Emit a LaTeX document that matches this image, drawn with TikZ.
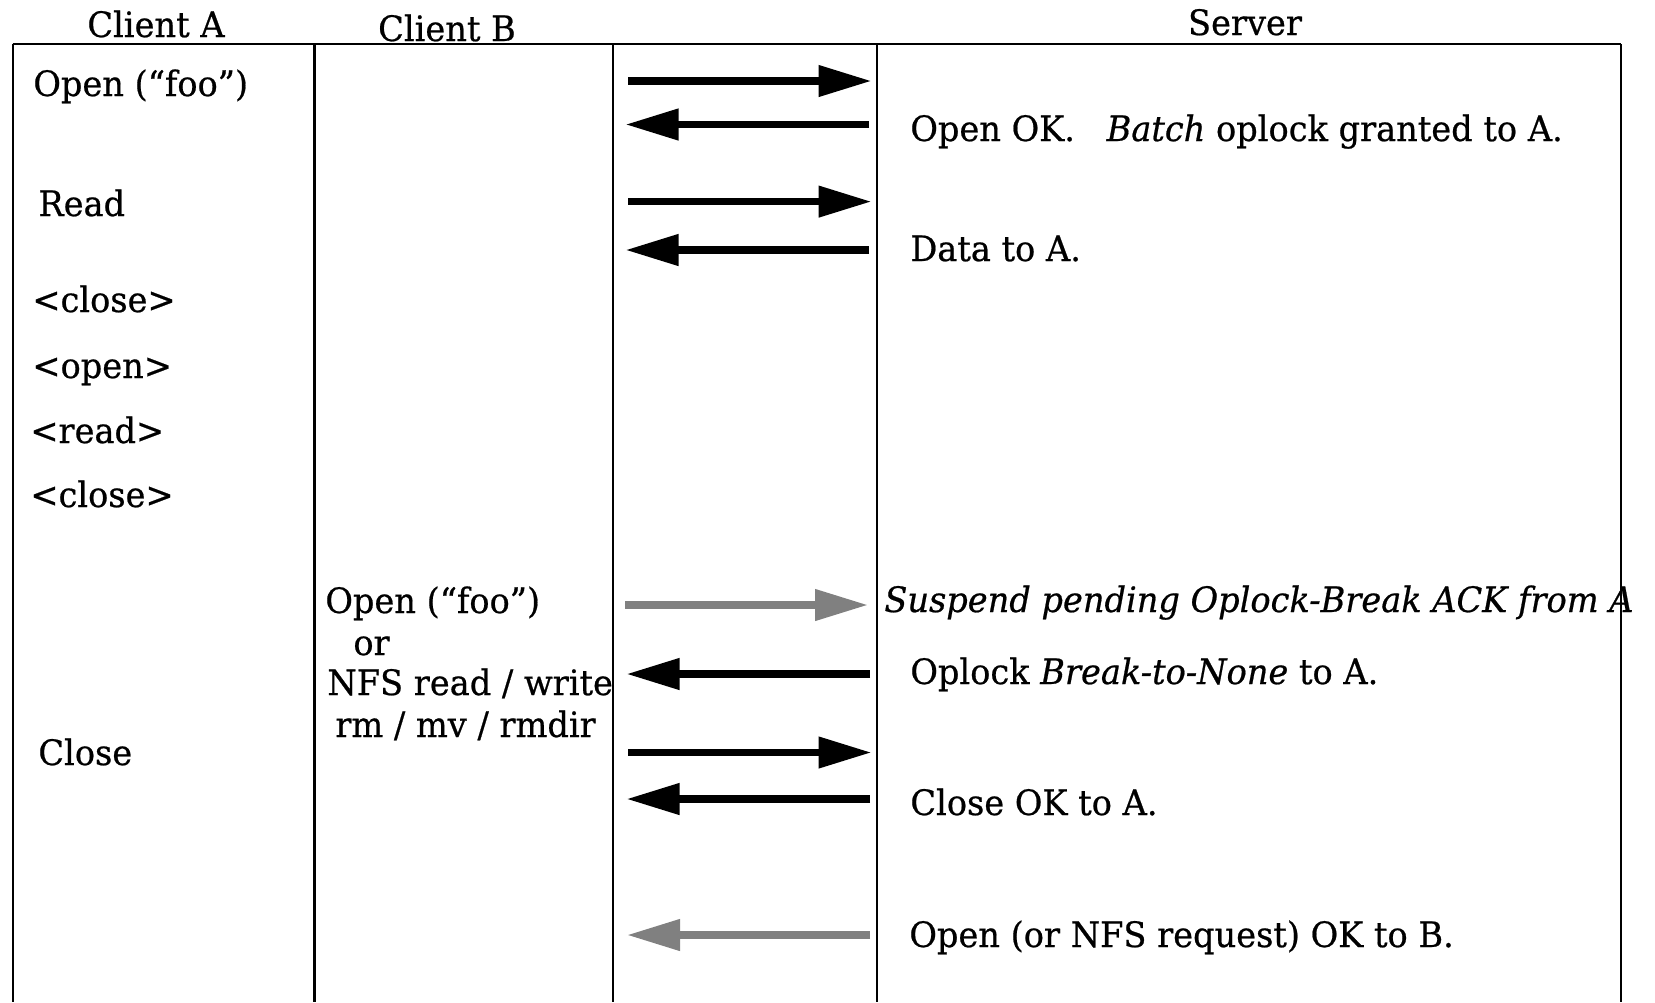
\documentclass[tikz,border=0pt]{standalone}
\usepackage{fontspec}
\setmainfont[FakeStretch=0.96,FakeBold=0.6]{DejaVu Serif}
\usetikzlibrary{arrows.meta}
\definecolor{msggray}{RGB}{128,128,128}
\begin{document}
\begin{tikzpicture}[x=0.5pt,y=-0.5pt,
  rule/.style={line width=1.2pt},
  msg/.style={line width=3.75pt,-{Triangle[length=26.5pt,width=15pt]}},
  msgalt/.style={msg,draw=msggray,fill=msggray},
  txt/.style={anchor=base west,inner sep=0pt,font=\fontsize{17.5}{20}\selectfont},
  head/.style={anchor=base,inner sep=0pt,font=\fontsize{17.5}{20}\selectfont}]
\useasboundingbox (0,0) rectangle (1655,1002);

% table frame (open at the bottom)
\draw[rule] (12.7,44) -- (1621,44);
\foreach \cx in {12.7,314.5,613,877,1621}
  \draw[rule] (\cx,44) -- (\cx,1002);

% column headings
\node[head] (hA) at (156,37) {Client A};
\node[head] (hB) at (447,41) {Client B};
\node[head] (hS) at (1245,35) {Server};

% client A actions
\node[txt] (a1) at (33,96) {Open (“foo”)};
\node[txt] (a2) at (38,216) {Read};
\node[txt] (a3) at (32,312) {<close>};
\node[txt] (a4) at (32,378) {<open>};
\node[txt] (a5) at (30,443) {<read>};
\node[txt] (a6) at (30,507) {<close>};
\node[txt] (a7) at (38,765) {Close};

% client B request
\node[txt] (b1) at (325,613) {Open (“foo”)};
\node[txt] (b2) at (353,655) {or};
\node[txt] (b3) at (327,695) {NFS read / write};
\node[txt] (b4) at (335,737) {rm / mv / rmdir};

% server responses
\node[txt] (s1) at (910,141) {Open OK.\hspace{0.6em} \textit{Batch} oplock granted to A.};
\node[txt] (s2) at (910,261) {Data to A.};
\node[txt] (s3) at (884,612) {\textit{Suspend pending Oplock-Break ACK from A}};
\node[txt] (s4) at (910,684) {Oplock \textit{Break-to-None} to A.};
\node[txt] (s5) at (910,815) {Close OK to A.};
\node[txt] (s6) at (909,947) {Open (or NFS request) OK to B.};

% message end points
\coordinate (c1) at (628,81);     \coordinate (v1) at (871.5,81);
\coordinate (v2) at (869,124.5);  \coordinate (c2) at (625.5,124.5);
\coordinate (c3) at (628,201.6);  \coordinate (v3) at (871.5,201.6);
\coordinate (v4) at (869,250);    \coordinate (c4) at (625.5,250);
\coordinate (c5) at (625,605);    \coordinate (v5) at (868,605);
\coordinate (v6) at (870,674);    \coordinate (c6) at (626.5,674);
\coordinate (c7) at (628,752.5);  \coordinate (v7) at (871.5,752.5);
\coordinate (v8) at (870,799);    \coordinate (c8) at (626.5,799);
\coordinate (v9) at (870,935);    \coordinate (c9) at (627,935);

% messages
\draw[msg] (c1) -- (v1);
\draw[msg] (v2) -- (c2);
\draw[msg] (c3) -- (v3);
\draw[msg] (v4) -- (c4);
\draw[msgalt] (c5) -- (v5);
\draw[msg] (v6) -- (c6);
\draw[msg] (c7) -- (v7);
\draw[msg] (v8) -- (c8);
\draw[msgalt] (v9) -- (c9);
\end{tikzpicture}
\end{document}
